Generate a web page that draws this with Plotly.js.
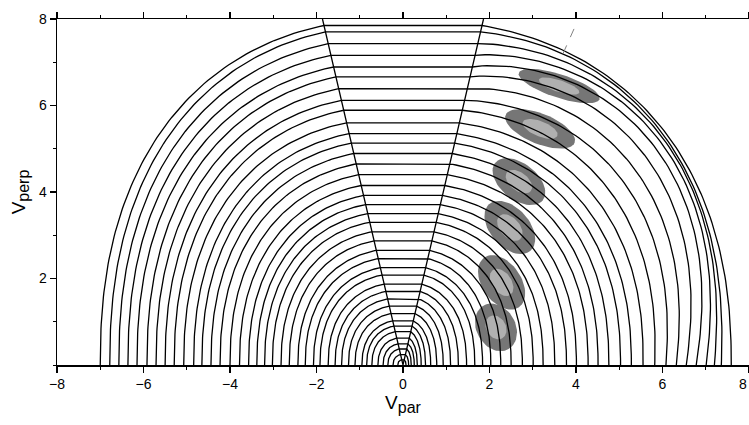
<!DOCTYPE html>
<html>
<head>
<meta charset="utf-8">
<script src="https://cdn.plot.ly/plotly-3.0.1.min.js"></script>
<style>html,body{margin:0;padding:0;background:#fff;}#chart{width:749px;height:425px;}</style>
</head>
<body>
<div id="chart"></div>
<script>
// ---- data ----
// left-hand baseline crossings of each contour (outer -> inner), |v_par|
const leftCross = [7.00, 6.78, 6.57, 6.36, 6.15, 5.92, 5.71, 5.50, 5.29, 5.07, 4.84, 4.65, 4.44, 4.23, 4.00, 3.78, 3.57, 3.38, 3.20, 3.02, 2.82, 2.63, 2.43, 2.26, 2.07, 1.92, 1.73, 1.57, 1.42, 1.26, 1.11, 0.95, 0.84, 0.72, 0.58, 0.46, 0.35, 0.23, 0.12];
// height of each contour inside the loss-cone wedge
const wedgeLevel = [7.85, 7.70, 7.43, 7.16, 6.89, 6.66, 6.39, 6.12, 5.89, 5.60, 5.35, 5.13, 4.89, 4.65, 4.40, 4.15, 3.92, 3.71, 3.50, 3.30, 3.08, 2.87, 2.65, 2.46, 2.25, 2.08, 1.87, 1.70, 1.53, 1.36, 1.19, 1.02, 0.90, 0.77, 0.62, 0.49, 0.37, 0.24, 0.12];
// right-hand baseline crossings
const rightCross = [7.59, 7.36, 7.20, 7.01, 6.78, 6.55, 6.32, 6.08, 5.82, 5.55, 5.28, 5.03, 4.76, 4.51, 4.28, 4.01, 3.78, 3.51, 3.24, 3.01, 2.76, 2.50, 2.26, 2.03, 1.84, 1.66, 1.47, 1.28, 1.10, 0.93, 0.78, 0.64, 0.52, 0.42, 0.33, 0.26, 0.19, 0.13, 0.07];
// outward push of the right-hand contours where they crowd together (upper right)
const rightCrowd = [0.00, 0.14, 0.30, 0.44, 0.52, 0.46, 0.34, 0.22, 0.10, 0.03, 0, 0, 0, 0, 0, 0, 0, 0, 0, 0, 0, 0, 0, 0, 0, 0, 0, 0, 0, 0, 0, 0, 0, 0, 0, 0, 0, 0, 0];
// loss-cone half angle (degrees from v_perp axis)
const coneAngle = 13.1;
// diffusion (resonance) patches
const blobX = [2.15, 2.28, 2.47, 2.68, 3.17, 3.61];
const blobY = [0.87, 1.91, 3.18, 4.24, 5.46, 6.45];
const blobLong = [0.58, 0.70, 0.72, 0.70, 0.86, 0.98];
const blobShort = [0.45, 0.45, 0.45, 0.42, 0.35, 0.27];
const blobTilt = [-60, -55, -48, -38, -22, -18];
// dashed guide line
const guideX = [3.70, 4.02];
const guideY = [7.20, 7.92];
// axis ticks
const xTicks = [-8, -6, -4, -2, 0, 2, 4, 6, 8];
const xTickText = ['\u22128', '\u22126', '\u22124', '\u22122', '0', '2', '4', '6', ''];
const yTicks = [2, 4, 6, 8];

// ---- geometry ----
const P = 2.3; // superellipse exponent of the contours
const phi0 = coneAngle * Math.PI / 180;
function rad(a, B, phi) {
  return Math.pow(Math.pow(Math.sin(phi) / a, P) + Math.pow(Math.cos(phi) / B, P), -1 / P);
}
function solveB(a, h) {
  const r0 = h / Math.cos(phi0);
  const v = Math.pow(r0, -P) - Math.pow(Math.sin(phi0) / a, P);
  return Math.cos(phi0) / Math.pow(v, 1 / P);
}
const cx = [], cy = [];
const NS = 90;
for (let k = 0; k < leftCross.length; k++) {
  const h = wedgeLevel[k];
  const aL = leftCross[k], aR = rightCross[k];
  const BL = solveB(aL, h), BR = solveB(aR, h);
  for (let i = 0; i <= NS; i++) {
    const phi = Math.PI / 2 - (Math.PI / 2 - phi0) * i / NS;
    const r = rad(aL, BL, phi);
    cx.push(-r * Math.sin(phi)); cy.push(r * Math.cos(phi));
  }
  for (let i = 0; i <= NS; i++) {
    const s = i / NS;
    const phi = phi0 + (Math.PI / 2 - phi0) * s;
    const r = rad(aR, BR, phi) + rightCrowd[k] * Math.sin(Math.PI * Math.pow(s, 0.85));
    cx.push(r * Math.sin(phi)); cy.push(r * Math.cos(phi));
  }
  cx.push(null); cy.push(null);
}

const traces = [];
for (let j = 0; j < blobX.length; j++) {
  const t = blobTilt[j] * Math.PI / 180;
  [[1.0, 'rgb(118,118,118)'], [0.5, 'rgb(176,176,176)']].forEach(([s, col]) => {
    const ex = [], ey = [];
    for (let i = 0; i <= 60; i++) {
      const u = 2 * Math.PI * i / 60;
      const px = blobLong[j] * s * Math.cos(u), py = blobShort[j] * s * Math.sin(u);
      ex.push(blobX[j] + px * Math.cos(t) - py * Math.sin(t));
      ey.push(blobY[j] + px * Math.sin(t) + py * Math.cos(t));
    }
    traces.push({x: ex, y: ey, mode: 'lines', fill: 'toself', fillcolor: col, line: {width: 0}, hoverinfo: 'skip', showlegend: false});
  });
}
traces.push({x: cx, y: cy, mode: 'lines', line: {color: 'black', width: 1.3}, connectgaps: false, hoverinfo: 'skip', showlegend: false});
const tx = 8 * Math.tan(phi0);
traces.push({x: [-tx, 0, tx], y: [8, 0, 8], mode: 'lines', line: {color: 'black', width: 1.3}, hoverinfo: 'skip', showlegend: false});
traces.push({x: guideX, y: guideY, mode: 'lines', line: {color: 'rgb(130,130,130)', width: 1, dash: 'dash'}, hoverinfo: 'skip', showlegend: false});

const FONT = 'Liberation Sans, Arial, sans-serif';
const axisCommon = {
  showgrid: false, zeroline: false, showline: true, linecolor: 'black', linewidth: 1.5,
  mirror: 'ticks', ticks: 'outside', ticklen: 6, tickwidth: 1.2, tickcolor: 'black',
  minor: {dtick: 1, ticks: 'outside', ticklen: 3, tickwidth: 1, tickcolor: 'black'},
  tickfont: {family: FONT, size: 14, color: 'black'}
};
const layout = {
  width: 749, height: 425,
  margin: {l: 57, r: 0, t: 19, b: 60},
  paper_bgcolor: 'white', plot_bgcolor: 'white',
  showlegend: false,
  xaxis: Object.assign({}, axisCommon, {
    range: [-8, 8], tickvals: xTicks, ticktext: xTickText,
    title: {text: 'V<sub><span style="font-size:16px">par</span></sub>', font: {family: FONT, size: 19, color: 'black'}, standoff: 4}
  }),
  yaxis: Object.assign({}, axisCommon, {
    range: [0, 8], tickvals: yTicks,
    title: {text: 'V<sub><span style="font-size:16px">perp</span></sub>', font: {family: FONT, size: 19, color: 'black'}, standoff: 8}
  }),
  annotations: [{x: 8, y: 0, xref: 'x', yref: 'y', text: '8', showarrow: false, yanchor: 'top', xanchor: 'right', yshift: -9, font: {family: FONT, size: 14, color: 'black'}}]
};
Plotly.newPlot('chart', traces, layout, {staticPlot: true, displayModeBar: false});
</script>
</body>
</html>
